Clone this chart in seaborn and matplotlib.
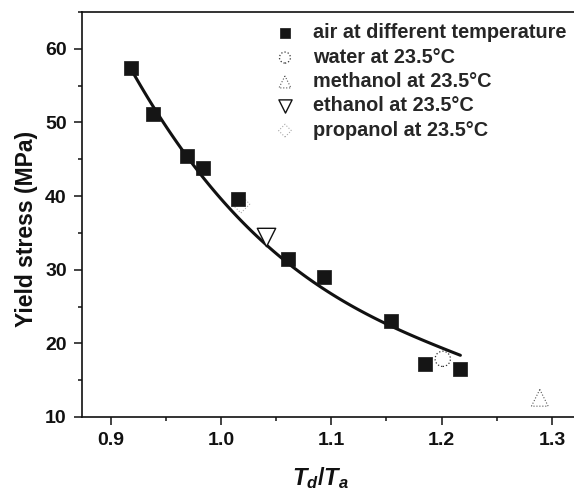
import matplotlib
matplotlib.use("Agg")
import matplotlib.pyplot as plt
import seaborn as sns
from matplotlib.ticker import MultipleLocator

# ---- data ----
air_x = [0.918, 0.938, 0.969, 0.984, 1.015, 1.061, 1.093, 1.154, 1.185, 1.217]
air_y = [57.4, 51.1, 45.4, 43.8, 39.6, 31.5, 29.0, 23.1, 17.2, 16.5]
water_x, water_y = [1.201], [17.9]
methanol_x, methanol_y = [1.289], [12.6]
ethanol_x, ethanol_y = [1.041], [34.5]
propanol_x, propanol_y = [1.018], [38.9]

# fitted curve, points
curve_x = [0.918, 0.938, 0.959, 0.977, 0.998, 1.019, 1.043, 1.067, 1.088,
           1.112, 1.136, 1.160, 1.187, 1.217]
curve_y = [57.3, 52.1, 47.6, 44.2, 39.9, 36.3, 33.1, 30.0, 27.9,
           25.7, 23.6, 22.1, 20.2, 18.3]

labels = ["air at different temperature", "water at 23.5°C", "methanol at 23.5°C",
          "ethanol at 23.5°C", "propanol at 23.5°C"]
x_ticks = [0.9, 1.0, 1.1, 1.2, 1.3]
y_ticks = [10, 20, 30, 40, 50, 60]

sns.set_theme(style="ticks")
plt.rcParams['font.family'] = ['Liberation Sans', 'DejaVu Sans']
plt.rcParams['font.weight'] = 'bold'
plt.rcParams['mathtext.fontset'] = 'custom'
plt.rcParams['mathtext.it'] = 'Liberation Sans:italic:bold'
plt.rcParams['mathtext.rm'] = 'Liberation Sans:bold'

fig = plt.figure(figsize=(5.74, 4.97), dpi=100)
ax = fig.add_axes([0.143, 0.161, 0.857, 0.815])

# smooth line through the read curve points (library regression, cubic)
sns.regplot(x=curve_x, y=curve_y, order=3, ci=None, scatter=False, truncate=True,
            line_kws=dict(color="#111111", lw=2.2, zorder=2), ax=ax)

sns.scatterplot(x=propanol_x, y=propanol_y, marker="D", s=81, facecolor="none",
                edgecolor="#aaaaaa", linewidth=0.8, linestyle=":", label=labels[4],
                ax=ax, zorder=2)
sns.scatterplot(x=air_x, y=air_y, marker="s", s=92, color="#151515", edgecolor="#151515",
                linewidth=0.5, label=labels[0], ax=ax, zorder=3)
sns.scatterplot(x=water_x, y=water_y, marker="o", s=121, facecolor="white",
                edgecolor="#333333", linewidth=0.9, linestyle=":", label=labels[1],
                ax=ax, zorder=4)
sns.scatterplot(x=methanol_x, y=methanol_y, marker="^", s=144, facecolor="none",
                edgecolor="#555555", linewidth=0.8, linestyle=":", label=labels[2],
                ax=ax, zorder=4)
sns.scatterplot(x=ethanol_x, y=ethanol_y, marker="v", s=175, facecolor="white",
                edgecolor="#111111", linewidth=1.0, label=labels[3], ax=ax, zorder=4)

handles, labs = ax.get_legend_handles_labels()
order = [labs.index(l) for l in labels]
leg = ax.legend([handles[i] for i in order], [labs[i] for i in order],
                loc="upper left", bbox_to_anchor=(0.368, 1.006), frameon=False,
                fontsize=14.3, markerscale=0.72, handlelength=0.8, handletextpad=1.0,
                labelspacing=0.27, borderaxespad=0.3)

ax.set_xlim(0.874, 1.32)
ax.set_ylim(10, 65)
ax.set_xticks(x_ticks)
ax.set_yticks(y_ticks)
ax.set_xticklabels([f"{v:.1f}" for v in x_ticks], fontweight="bold")
ax.set_yticklabels([str(v) for v in y_ticks], fontweight="bold")
ax.xaxis.set_minor_locator(MultipleLocator(0.05))
ax.yaxis.set_minor_locator(MultipleLocator(5))
ax.tick_params(which="major", direction="out", length=6, width=1.1, labelsize=14,
               color="#111111", labelcolor="#111111", pad=5)
ax.tick_params(which="minor", direction="out", length=3, width=1.1, color="#111111")
for side in ["left", "bottom", "top"]:
    ax.spines[side].set_linewidth(1.2)
    ax.spines[side].set_color("#111111")
ax.spines["right"].set_visible(False)

ax.set_xlabel(r"$T_d/T_a$", fontsize=17, color="#111111")
ax.xaxis.set_label_coords(0.484, -0.118)
ax.set_ylabel("Yield stress (MPa)", fontsize=16.5, fontweight="bold", color="#111111")
ax.yaxis.set_label_coords(-0.09, 0.464)

fig.savefig("out.png", dpi=100)
